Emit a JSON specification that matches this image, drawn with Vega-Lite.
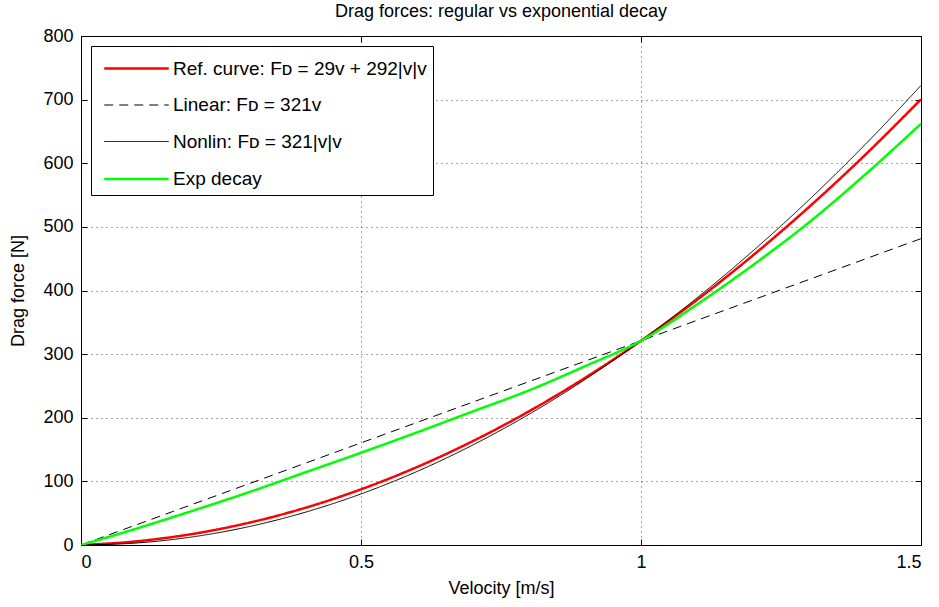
{
  "$schema": "https://vega.github.io/schema/vega-lite/v6.json",
  "width": 840,
  "height": 509,
  "autosize": {"type": "none"},
  "padding": {"left": 81, "top": 36, "right": 18, "bottom": 62},
  "background": "white",
  "title": {"text": "Drag forces: regular vs exponential decay", "fontSize": 18, "fontWeight": "normal", "font": "Liberation Sans", "color": "black", "offset": 6},
  "data": {"values": [
    {"v": 0, "F": 0, "series": "Ref. curve: Fᴅ = 29v + 292|v|v"},
    {"v": 0.1, "F": 5.82, "series": "Ref. curve: Fᴅ = 29v + 292|v|v"},
    {"v": 0.2, "F": 17.48, "series": "Ref. curve: Fᴅ = 29v + 292|v|v"},
    {"v": 0.3, "F": 34.98, "series": "Ref. curve: Fᴅ = 29v + 292|v|v"},
    {"v": 0.4, "F": 58.32, "series": "Ref. curve: Fᴅ = 29v + 292|v|v"},
    {"v": 0.5, "F": 87.5, "series": "Ref. curve: Fᴅ = 29v + 292|v|v"},
    {"v": 0.6, "F": 122.52, "series": "Ref. curve: Fᴅ = 29v + 292|v|v"},
    {"v": 0.7, "F": 163.38, "series": "Ref. curve: Fᴅ = 29v + 292|v|v"},
    {"v": 0.8, "F": 210.08, "series": "Ref. curve: Fᴅ = 29v + 292|v|v"},
    {"v": 0.9, "F": 262.62, "series": "Ref. curve: Fᴅ = 29v + 292|v|v"},
    {"v": 1.0, "F": 321, "series": "Ref. curve: Fᴅ = 29v + 292|v|v"},
    {"v": 1.1, "F": 385.22, "series": "Ref. curve: Fᴅ = 29v + 292|v|v"},
    {"v": 1.2, "F": 455.28, "series": "Ref. curve: Fᴅ = 29v + 292|v|v"},
    {"v": 1.3, "F": 531.18, "series": "Ref. curve: Fᴅ = 29v + 292|v|v"},
    {"v": 1.4, "F": 612.92, "series": "Ref. curve: Fᴅ = 29v + 292|v|v"},
    {"v": 1.5, "F": 700.5, "series": "Ref. curve: Fᴅ = 29v + 292|v|v"},
    {"v": 0, "F": 0, "series": "Linear: Fᴅ = 321v"},
    {"v": 0.5, "F": 160.5, "series": "Linear: Fᴅ = 321v"},
    {"v": 1.0, "F": 321, "series": "Linear: Fᴅ = 321v"},
    {"v": 1.5, "F": 481.5, "series": "Linear: Fᴅ = 321v"},
    {"v": 0, "F": 0, "series": "Nonlin: Fᴅ = 321|v|v"},
    {"v": 0.1, "F": 3.21, "series": "Nonlin: Fᴅ = 321|v|v"},
    {"v": 0.2, "F": 12.84, "series": "Nonlin: Fᴅ = 321|v|v"},
    {"v": 0.3, "F": 28.89, "series": "Nonlin: Fᴅ = 321|v|v"},
    {"v": 0.4, "F": 51.36, "series": "Nonlin: Fᴅ = 321|v|v"},
    {"v": 0.5, "F": 80.25, "series": "Nonlin: Fᴅ = 321|v|v"},
    {"v": 0.6, "F": 115.56, "series": "Nonlin: Fᴅ = 321|v|v"},
    {"v": 0.7, "F": 157.29, "series": "Nonlin: Fᴅ = 321|v|v"},
    {"v": 0.8, "F": 205.44, "series": "Nonlin: Fᴅ = 321|v|v"},
    {"v": 0.9, "F": 260.01, "series": "Nonlin: Fᴅ = 321|v|v"},
    {"v": 1.0, "F": 321, "series": "Nonlin: Fᴅ = 321|v|v"},
    {"v": 1.1, "F": 388.41, "series": "Nonlin: Fᴅ = 321|v|v"},
    {"v": 1.2, "F": 462.24, "series": "Nonlin: Fᴅ = 321|v|v"},
    {"v": 1.3, "F": 542.49, "series": "Nonlin: Fᴅ = 321|v|v"},
    {"v": 1.4, "F": 629.16, "series": "Nonlin: Fᴅ = 321|v|v"},
    {"v": 1.5, "F": 722.25, "series": "Nonlin: Fᴅ = 321|v|v"},
    {"v": 0, "F": 0, "series": "Exp decay"},
    {"v": 0.1, "F": 26, "series": "Exp decay"},
    {"v": 0.2, "F": 54, "series": "Exp decay"},
    {"v": 0.3, "F": 83, "series": "Exp decay"},
    {"v": 0.4, "F": 114, "series": "Exp decay"},
    {"v": 0.5, "F": 145, "series": "Exp decay"},
    {"v": 0.6, "F": 177, "series": "Exp decay"},
    {"v": 0.7, "F": 210, "series": "Exp decay"},
    {"v": 0.8, "F": 243, "series": "Exp decay"},
    {"v": 0.9, "F": 281, "series": "Exp decay"},
    {"v": 1.0, "F": 321, "series": "Exp decay"},
    {"v": 1.1, "F": 378, "series": "Exp decay"},
    {"v": 1.2, "F": 440, "series": "Exp decay"},
    {"v": 1.3, "F": 507, "series": "Exp decay"},
    {"v": 1.4, "F": 582, "series": "Exp decay"},
    {"v": 1.5, "F": 662, "series": "Exp decay"}
  ]},
  "layer": [
    {
      "mark": {"type": "line", "interpolate": "monotone", "clip": true},
      "encoding": {
        "x": {"field": "v", "type": "quantitative", "scale": {"domain": [0, 1.5], "nice": false},
              "axis": {"title": "Velocity [m/s]", "values": [0, 0.5, 1, 1.5], "format": "~g", "orient": "bottom"}},
        "y": {"field": "F", "type": "quantitative", "scale": {"domain": [0, 800], "nice": false},
              "axis": {"title": "Drag force [N]", "values": [0, 100, 200, 300, 400, 500, 600, 700, 800], "orient": "left"}},
        "color": {"field": "series", "type": "nominal",
                  "scale": {"domain": ["Ref. curve: Fᴅ = 29v + 292|v|v", "Linear: Fᴅ = 321v", "Nonlin: Fᴅ = 321|v|v", "Exp decay"], "range": ["#ff0000", "#000000", "#000000", "#00ff00"]},
                  "legend": {"title": null}},
        "strokeDash": {"field": "series", "type": "nominal",
                  "scale": {"domain": ["Ref. curve: Fᴅ = 29v + 292|v|v", "Linear: Fᴅ = 321v", "Nonlin: Fᴅ = 321|v|v", "Exp decay"], "range": [[1, 0], [9, 6], [1, 0], [1, 0]]},
                  "legend": {"title": null}},
        "strokeWidth": {"field": "series", "type": "nominal",
                  "scale": {"type": "ordinal", "domain": ["Ref. curve: Fᴅ = 29v + 292|v|v", "Linear: Fᴅ = 321v", "Nonlin: Fᴅ = 321|v|v", "Exp decay"], "range": [2.5, 1, 1, 2.5]},
                  "legend": {"title": null}}
      }
    },
    {
      "mark": {"type": "line", "opacity": 0},
      "encoding": {
        "x": {"field": "v", "type": "quantitative",
              "axis": {"orient": "top", "values": [0, 0.5, 1, 1.5], "labels": false, "grid": false, "domain": false, "title": null}},
        "y": {"field": "F", "type": "quantitative",
              "axis": {"orient": "right", "values": [0, 100, 200, 300, 400, 500, 600, 700, 800], "labels": false, "grid": false, "domain": false, "title": null}}
      }
    }
  ],
  "resolve": {"axis": {"x": "independent", "y": "independent"}},
  "config": {
    "font": "Liberation Sans",
    "view": {"stroke": "black", "strokeWidth": 1},
    "axis": {
      "labelFont": "Liberation Sans", "labelFontSize": 18, "labelColor": "black",
      "titleFont": "Liberation Sans", "titleFontSize": 18, "titleFontWeight": "normal", "titleColor": "black",
      "domainColor": "black", "tickColor": "black", "tickSize": -6, "labelPadding": 14,
      "grid": true, "gridColor": "black", "gridOpacity": 0.7, "gridDash": [1, 4], "gridWidth": 1
    },
    "axisX": {"titlePadding": 8},
    "axisY": {"titlePadding": 15},
    "legend": {
      "orient": "top-left", "offset": 10, "fillColor": "white", "strokeColor": "black", "padding": 6,
      "symbolType": "M-2.15,0H2.15", "symbolSize": 900, "symbolOffset": 23, "labelFontSize": 19, "labelFont": "Liberation Sans", "labelColor": "black",
      "labelLimit": 400, "rowPadding": 10.5, "labelOffset": 20, "cornerRadius": 0
    }
  }
}
